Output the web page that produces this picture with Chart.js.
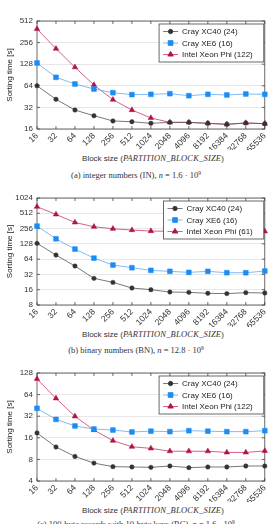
<!DOCTYPE html>
<html><head><meta charset="utf-8">
<script src="https://cdn.jsdelivr.net/npm/chart.js@4/dist/chart.umd.min.js"></script>
<style>
html,body{margin:0;padding:0;background:#fff;width:274px;height:524px;overflow:hidden;position:relative;}
.cv{position:absolute;left:0;width:274px;height:150px;}
.xt{position:absolute;left:0;width:306px;text-align:center;font:8px "Liberation Sans",Arial,sans-serif;color:#333;white-space:nowrap;line-height:10px;}
.xt i{font-family:"Liberation Serif",serif;font-size:8.5px;font-weight:normal;color:#333;letter-spacing:0.2px;}
.cap{position:absolute;left:0;width:272px;text-align:center;font:8.5px "Liberation Serif",serif;color:#333;white-space:nowrap;line-height:10px;}
.cap sup{font-size:5.5px;vertical-align:3px;line-height:0;}
</style>
</head><body>
<div class="cv" style="top:0px"><canvas id="c1" width="274" height="150"></canvas></div>
<div class="xt" style="top:153px">Block size (<i>PARTITION_BLOCK_SIZE</i>)</div>
<div class="cap" style="top:170px">(a) integer numbers (IN), <i>n</i> = 1.6 · 10<sup>9</sup></div>

<div class="cv" style="top:177px"><canvas id="c2" width="274" height="150"></canvas></div>
<div class="xt" style="top:329px">Block size (<i>PARTITION_BLOCK_SIZE</i>)</div>
<div class="cap" style="top:345px">(b) binary numbers (BN), <i>n</i> = 12.8 · 10<sup>9</sup></div>

<div class="cv" style="top:352px"><canvas id="c3" width="274" height="150"></canvas></div>
<div class="xt" style="top:505px">Block size (<i>PARTITION_BLOCK_SIZE</i>)</div>
<div class="cap" style="top:519px">(c) 100-byte records with 10-byte keys (RC), <i>n</i> = 1.6 · 10<sup>9</sup></div>

<script>
// ---- data ----
const blockSizes = ['16','32','64','128','256','512','1024','2048','4096','8192','16384','32768','65536'];

const namesA = ['Cray XC40 (24)','Cray XE6 (16)','Intel Xeon Phi (122)'];
const namesB = ['Cray XC40 (24)','Cray XE6 (16)','Intel Xeon Phi (61)'];
const namesC = ['Cray XC40 (24)','Cray XE6 (16)','Intel Xeon Phi (122)'];

const inXC40 = [64,41.5,29.4,24.5,20.7,20.2,19.2,19.8,19.8,19.2,18.6,19.4,19.0];
const inXE6  = [133,84,67.8,57.7,51.3,48.2,48.7,49.7,46.6,48.7,47.7,49.2,48.7];
const inPhi  = [396,211,116,65.7,41,29.4,22.8,19.8,19.8,19.2,18.6,19.4,19.0];

const bnXC40 = [131,77,46.8,26.8,22.3,17.3,16,14.4,14.2,13.6,13.4,14.0,13.8];
const bnXE6  = [286,161,101,67,49,43.4,38.5,36.8,35.1,36.8,34.6,34.6,37.3];
const bnPhi  = [690,486,338,278,254,239,229,226,225,225,225,225,226];

const rcXC40 = [18.7,11.9,8.8,7.1,6.34,6.27,6.2,6.47,6.14,6.27,6.27,6.47,6.47];
const rcXE6  = [41.2,28.9,23.4,21.2,20.5,19.3,19.8,19.5,20.1,19.8,19.5,19.5,20.1];
const rcPhi  = [105.6,56.8,31.9,20.5,14.6,12.0,11.4,10.4,10.4,10.4,10.0,10.0,10.5];

const yTicksA = [16,32,64,128,256,512];
const yTicksB = [8,16,32,64,128,256,512,1024];
const yTicksC = [4,8,16,32,64,128];

// ---- styles ----
const FONT = '"Liberation Sans", Arial, sans-serif';
const styles = [
  {line:'#555555', fill:'#333333', pointStyle:'circle', radius:2.2},
  {line:'#5fa9f2', fill:'#1a8cf5', pointStyle:'rect', radius:3.4},
  {line:'#c93a68', fill:'#b0124a', pointStyle:'triangle', radius:3.2}
];

const framePlugin = {
  id:'frame',
  beforeDatasetsDraw(chart){
    const {ctx, chartArea:a, scales:{x,y}} = chart;
    ctx.save();
    ctx.strokeStyle = '#444'; ctx.lineWidth = 0.8;
    ctx.strokeRect(a.left, a.top, a.right-a.left, a.bottom-a.top);
    ctx.beginPath();
    for (let i=0;i<x.ticks.length;i++){
      const px = x.getPixelForTick(i);
      ctx.moveTo(px,a.top); ctx.lineTo(px,a.top+3);
      ctx.moveTo(px,a.bottom); ctx.lineTo(px,a.bottom-3);
    }
    for (let i=0;i<y.ticks.length;i++){
      const py = y.getPixelForValue(y.ticks[i].value);
      ctx.moveTo(a.left,py); ctx.lineTo(a.left+3,py);
      ctx.moveTo(a.right,py); ctx.lineTo(a.right-3,py);
    }
    ctx.stroke();
    ctx.restore();
  },
  afterDatasetsDraw(chart){
    const {ctx, chartArea:a} = chart;
    const ds = chart.data.datasets;
    ctx.save();
    ctx.font = '8px ' + FONT;
    let tw = 0;
    ds.forEach(d => tw = Math.max(tw, ctx.measureText(d.label).width));
    const w = 23 + tw + 11, h = 38;
    const bx = a.right - 1 - w, by = a.top + 3;
    ctx.fillStyle = '#fff';
    ctx.fillRect(bx, by, w, h);
    ctx.strokeStyle = '#444'; ctx.lineWidth = 0.8;
    ctx.strokeRect(bx, by, w, h);
    ds.forEach((d,i) => {
      const ry = by + 7.5 + i*11.5;
      ctx.strokeStyle = d.borderColor; ctx.lineWidth = 0.8;
      ctx.beginPath(); ctx.moveTo(bx+4, ry); ctx.lineTo(bx+19, ry); ctx.stroke();
      ctx.fillStyle = d.pointBackgroundColor; ctx.strokeStyle = d.pointBorderColor;
      Chart.helpers.drawPoint(ctx, {pointStyle:d.pointStyle, radius:d.pointRadius, rotation:0, borderWidth:0.5}, bx+11.5, ry);
      ctx.fillStyle = '#222'; ctx.textBaseline = 'middle'; ctx.textAlign = 'left';
      ctx.fillText(d.label, bx+23, ry+0.5);
    });
    ctx.restore();
  }
};

function makeChart(id, names, series, yTicks, bottomPx){
  const datasets = series.map((vals,i) => ({
    label: names[i],
    data: vals,
    borderColor: styles[i].line,
    borderWidth: 0.8,
    pointStyle: styles[i].pointStyle,
    pointRadius: styles[i].radius,
    pointBackgroundColor: styles[i].fill,
    pointBorderColor: styles[i].fill,
    pointBorderWidth: 0.5,
    tension: 0,
    clip: false
  }));
  new Chart(document.getElementById(id), {
    type: 'line',
    data: {labels: blockSizes, datasets},
    options: {
      responsive: false,
      animation: false,
      devicePixelRatio: 1,
      layout: {padding: {top: 21, right: 5, left: 0, bottom: 0}},
      plugins: {legend: {display: false}, tooltip: {enabled: false}},
      scales: {
        x: {
          type: 'category',
          offset: false,
          grid: {display: false, drawTicks: false},
          border: {display: false},
          ticks: {minRotation: 45, maxRotation: 45, autoSkip: false, padding: 2,
                  font: {size: 8.5, family: FONT}, color: '#333'},
          afterFit(s){ s.height = 150 - bottomPx; }
        },
        y: {
          type: 'logarithmic',
          min: yTicks[0], max: yTicks[yTicks.length-1],
          grid: {color: '#dcdcdc', lineWidth: 0.7, drawTicks: false},
          border: {display: false},
          ticks: {padding: 4, font: {size: 8, family: FONT}, color: '#333',
                  callback: v => String(v)},
          afterBuildTicks(s){ s.ticks = yTicks.map(v => ({value: v})); },
          title: {display: true, text: 'Sorting time [s]', font: {size: 8, family: FONT},
                  color: '#222', padding: {top: 5, bottom: 0}},
          afterFit(s){ s.width = 37; }
        }
      }
    },
    plugins: [framePlugin]
  });
}

makeChart('c1', namesA, [inXC40, inXE6, inPhi], yTicksA, 129);
makeChart('c2', namesB, [bnXC40, bnXE6, bnPhi], yTicksB, 128);
makeChart('c3', namesC, [rcXC40, rcXE6, rcPhi], yTicksC, 129);
</script>
</body></html>
